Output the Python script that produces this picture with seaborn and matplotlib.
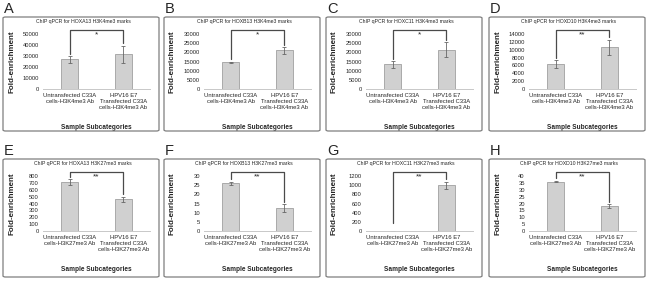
import numpy as np
import pandas as pd
import matplotlib
matplotlib.use("Agg")
import matplotlib.pyplot as plt
from matplotlib.patches import FancyBboxPatch
import seaborn as sns

# panel data
letters = ["A", "B", "C", "D", "E", "F", "G", "H"]
genes = ["HOXA13", "HOXB13", "HOXC11", "HOXD10"] * 2
marks = ["H3K4me3"] * 4 + ["H3K27me3"] * 4
untrans = [27000, 14500, 13500, 6300, 710, 26, 8, 36]
untrans_err = [3000, 400, 1800, 1000, 40, 1, 2, 0.7]
transf = [31500, 21000, 21500, 10600, 460, 12.5, 1000, 18]
transf_err = [8000, 1800, 4000, 2000, 40, 2, 80, 1.5]
ymax = [50000, 30000, 30000, 14000, 800, 30, 1200, 40]
ystep = [10000, 5000, 5000, 2000, 100, 5, 200, 5]
stars = ["*", "*", "*", "**", "**", "**", "**", "**"]

sns.set_style("white")
plt.rcParams['font.family'] = ['Liberation Sans', 'DejaVu Sans']

W, H = 650, 283
fig = plt.figure(figsize=(6.5, 2.83), dpi=100)

def box(x, y, w, h):
    return [x / W, 1 - (y + h) / H, w / W, h / H]

frame_left = [3, 164, 326, 489]
frame_top = [17, 159]
frame_h = [114, 118]

for i in range(8):
    row, col = i // 4, i % 4
    fl, ft = frame_left[col], frame_top[row]
    fw, fh = 156, frame_h[row]

    fig.patches.append(FancyBboxPatch((fl / W, 1 - (ft + fh) / H), fw / W, fh / H,
                                      boxstyle="round,pad=0,rounding_size=0.004",
                                      transform=fig.transFigure, fill=False,
                                      edgecolor="#7f7f7f", linewidth=0.9))
    fig.text((fl + 1) / W, 1 - (ft - 8) / H, letters[i], fontsize=10.5, va="center", ha="left")
    fig.text((fl + 80) / W, 1 - (ft + 5) / H, f"ChIP qPCR for {genes[i]} {marks[i]} marks",
             fontsize=3.7, ha="center", va="center")

    ax = fig.add_axes(box(fl + 40, ft + 17, 107, 55))
    labels = [f"Untransfected C33A\ncells-{marks[i]} Ab",
              f"HPV16 E7\nTransfected C33A\ncells-{marks[i]} Ab"]
    df = pd.DataFrame({"group": labels, "value": [untrans[i], transf[i]]})
    sns.barplot(data=df, x="group", y="value", color="#d0d0d0", edgecolor="#a0a0a0",
                linewidth=0.6, width=0.31, saturation=1, ax=ax)
    ax.errorbar([0, 1], [untrans[i], transf[i]], yerr=[untrans_err[i], transf_err[i]],
                fmt="none", ecolor="#666666", elinewidth=0.6, capsize=1.5, capthick=0.6)

    ym = ymax[i]
    ax.set_ylim(0, ym)
    ax.set_xlim(-0.5, 1.5)
    ax.set_yticks(np.arange(0, ym + ystep[i] / 2, ystep[i]))
    ax.tick_params(axis="y", labelsize=4.2, length=0, pad=3)
    ax.tick_params(axis="x", labelsize=4.2, length=0, pad=3)
    for s in ["top", "right", "left"]:
        ax.spines[s].set_visible(False)
    ax.spines["bottom"].set_color("#c8c8c8")
    ax.spines["bottom"].set_linewidth(0.7)

    ax.set_xlabel("Sample Subcategories", fontsize=4.7, fontweight="bold")
    ax.xaxis.set_label_coords(0.5, -35 / 55)
    ax.set_ylabel("Fold-enrichment", fontsize=5.8, fontweight="bold")
    ax.yaxis.set_label_coords(-28 / 107, 0.5)

    # significance bracket
    ytop = ym * (1 + 4 / 55)
    y0 = max(untrans[i] + untrans_err[i] + 0.04 * ym, 0.15 * ym)
    y1 = max(transf[i] + transf_err[i] + 0.04 * ym, 0.15 * ym)
    ax.plot([0, 0, 1, 1], [y0, ytop, ytop, y1], color="#4a4a4a", lw=0.9, clip_on=False)
    ax.text(0.5, ytop - ym * 0.02, stars[i], ha="center", va="top", fontsize=6, clip_on=False)

fig.savefig("out.png", dpi=100)
